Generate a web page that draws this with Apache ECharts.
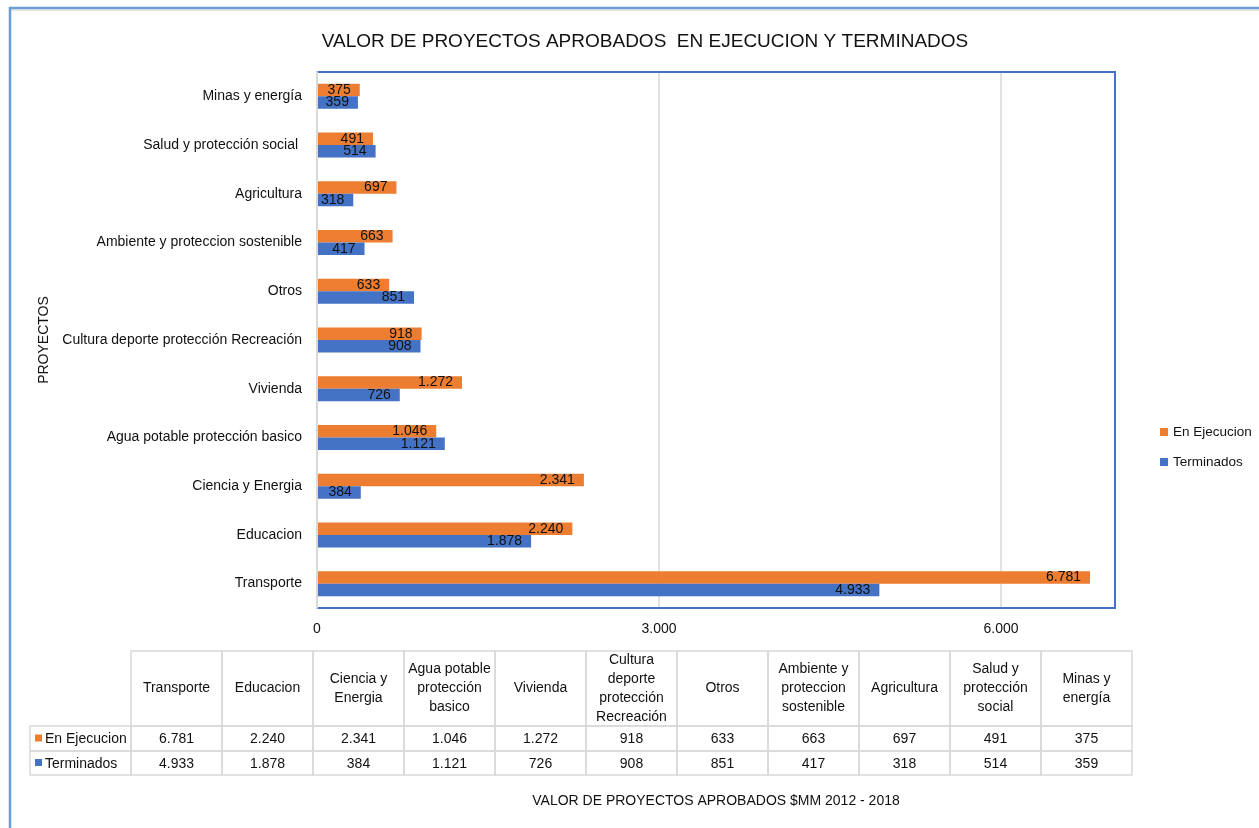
<!DOCTYPE html>
<html>
<head>
<meta charset="utf-8">
<script src="https://cdn.jsdelivr.net/npm/echarts@6/dist/echarts.min.js"></script>
<style>
html,body{margin:0;padding:0;background:#fff;}
#chart{width:1259px;height:828px;}
</style>
</head>
<body>
<div id="chart"></div>
<script>
// ---- data (bottom -> top on the chart, left -> right in the table) ----
var categories = ['Transporte', 'Educacion', 'Ciencia y Energia', 'Agua potable protección basico', 'Vivienda',
  'Cultura deporte protección Recreación', 'Otros', 'Ambiente y proteccion sostenible', 'Agricultura',
  'Salud y protección social ', 'Minas y energía'];
var tableHeaders = ['Transporte', 'Educacion', 'Ciencia y\nEnergia', 'Agua potable\nprotección\nbasico', 'Vivienda',
  'Cultura\ndeporte\nprotección\nRecreación', 'Otros', 'Ambiente y\nproteccion\nsostenible', 'Agricultura',
  'Salud y\nprotección\nsocial', 'Minas y\nenergía'];
var enEjecucion = [6781, 2240, 2341, 1046, 1272, 918, 633, 663, 697, 491, 375];
var terminados = [4933, 1878, 384, 1121, 726, 908, 851, 417, 318, 514, 359];
var seriesNames = ['En Ejecucion', 'Terminados'];
var xTicks = [0, 3000, 6000];

var FONT = '"Liberation Sans", Arial, sans-serif';
var TXT = '#111';
var C_ORANGE = '#ED7D31', C_BLUE = '#4472C4';

function fmt(v) { return String(v).replace(/\B(?=(\d{3})+(?!\d))/g, '.'); }

var chart = echarts.init(document.getElementById('chart'), null, {renderer: 'canvas'});

// ---- data table (graphic) ----
var tX0 = 131, colW = 91, hdrTop = 651, hdrBot = 726, r1Bot = 751, r2Bot = 775, lblX0 = 30;
var lineColor = '#D9D9D9';
var tableEls = [];
function cell(x, y, w, h) {
  tableEls.push({type: 'rect', shape: {x: x, y: y, width: w, height: h},
    style: {fill: null, stroke: lineColor, lineWidth: 1.5}, silent: true});
}
function txt(x, y, s, align) {
  tableEls.push({type: 'text', x: x, y: y, silent: true,
    style: {text: s, fill: TXT, font: '14px ' + FONT, align: align || 'center', verticalAlign: 'middle', lineHeight: 19}});
}
var rows = [enEjecucion, terminados];
var rowTops = [hdrBot, r1Bot];
var rowBots = [r1Bot, r2Bot];
var rowColors = [C_ORANGE, C_BLUE];
for (var i = 0; i < tableHeaders.length; i++) {
  var cx = tX0 + i * colW;
  cell(cx, hdrTop, colW, hdrBot - hdrTop);
  txt(cx + colW / 2, (hdrTop + hdrBot) / 2, tableHeaders[i]);
  for (var r = 0; r < rows.length; r++) {
    cell(cx, rowTops[r], colW, rowBots[r] - rowTops[r]);
    txt(cx + colW / 2, (rowTops[r] + rowBots[r]) / 2 + 1, fmt(rows[r][i]));
  }
}
for (var r2 = 0; r2 < rows.length; r2++) {
  cell(lblX0, rowTops[r2], tX0 - lblX0, rowBots[r2] - rowTops[r2]);
  var cy = (rowTops[r2] + rowBots[r2]) / 2;
  tableEls.push({type: 'rect', shape: {x: 35, y: cy - 4, width: 7, height: 7}, style: {fill: rowColors[r2]}, silent: true});
  txt(45, cy + 1, seriesNames[r2], 'left');
}
// outer chart frame
tableEls.push({type: 'rect', shape: {x: 10, y: 8, width: 1400, height: 1000},
  style: {fill: null, stroke: '#6A9FD6', lineWidth: 2.5}, silent: true});
tableEls.push({type: 'line', shape: {x1: 11, y1: 10, x2: 1259, y2: 10},
  style: {stroke: '#C8C8C8', lineWidth: 1}, silent: true});

var option = {
  backgroundColor: '#fff',
  animation: false,
  textStyle: {fontFamily: FONT},
  title: {
    text: 'VALOR DE PROYECTOS APROBADOS  EN EJECUCION Y TERMINADOS',
    left: 640, top: 27, textAlign: 'center',
    textStyle: {fontSize: 19, fontWeight: 'normal', color: TXT, fontFamily: FONT}
  },
  legend: {
    orient: 'vertical', left: 1155, top: 420,
    itemWidth: 8, itemHeight: 8, itemGap: 16, icon: 'rect',
    data: seriesNames,
    textStyle: {fontSize: 13.5, color: TXT, fontFamily: FONT}
  },
  grid: {
    left: 317, right: 144, top: 72, bottom: 220,
    show: true, borderColor: C_BLUE, borderWidth: 2, z: 3,
    containLabel: false
  },
  xAxis: {
    type: 'value', min: 0, max: 7000, interval: 3000,
    axisLine: {show: false}, axisTick: {show: false},
    axisLabel: {
      fontSize: 14, color: TXT, margin: 14, showMaxLabel: false,
      formatter: function (v) { return xTicks.indexOf(v) >= 0 ? fmt(v) : ''; }
    },
    splitLine: {show: true, lineStyle: {color: '#D9D9D9', width: 1.5}},
    name: 'VALOR DE PROYECTOS APROBADOS $MM 2012 - 2018',
    nameLocation: 'middle', nameGap: 186,
    nameTextStyle: {fontSize: 14, color: TXT}
  },
  yAxis: {
    type: 'category', data: categories, z: 4,
    axisLine: {show: true, lineStyle: {color: '#D9D9D9', width: 2}},
    axisTick: {show: false},
    axisLabel: {fontSize: 14, color: TXT, margin: 15},
    name: 'PROYECTOS', nameLocation: 'middle', nameGap: 266,
    nameTextStyle: {fontSize: 14, color: TXT}
  },
  series: [
    {
      name: seriesNames[0], type: 'bar', data: enEjecucion,
      barWidth: 12.5, barGap: '0%',
      itemStyle: {color: C_ORANGE},
      label: {show: true, position: 'insideRight', distance: 9, fontSize: 14, color: TXT,
        formatter: function (p) { return fmt(p.value); }}
    },
    {
      name: seriesNames[1], type: 'bar', data: terminados,
      barWidth: 12.5, barGap: '0%',
      itemStyle: {color: C_BLUE},
      label: {show: true, position: 'insideRight', distance: 9, fontSize: 14, color: TXT,
        formatter: function (p) { return fmt(p.value); }}
    }
  ],
  graphic: tableEls
};
chart.setOption(option);
</script>
</body>
</html>
